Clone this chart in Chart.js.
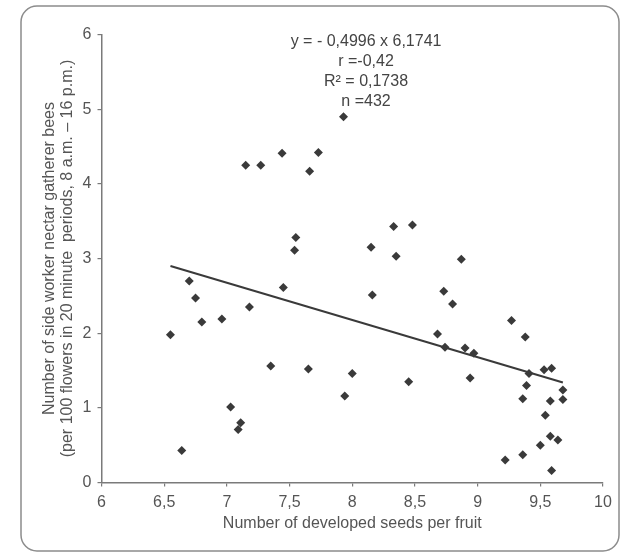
<!DOCTYPE html>
<html><head><meta charset="utf-8">
<script src="https://cdn.jsdelivr.net/npm/chart.js@4.4.1/dist/chart.umd.min.js"></script>
<style>html,body{margin:0;padding:0;background:#fff}canvas{display:block}</style>
</head><body>
<canvas id="c" width="621" height="554"></canvas>
<script>
// Observed points: number of developed seeds per fruit (x) vs bees (y)
const seedsX = [7.93,7.15,7.27,7.44,7.66,7.73,7.55,7.54,6.70,6.75,7.45,7.18,6.80,6.96,6.55,7.35,7.65,8.00,7.94,
  8.33,8.48,8.15,8.35,8.87,8.16,8.73,8.80,9.27,9.38,8.68,8.74,8.90,8.97,9.41,9.53,9.59,8.45,8.94,9.39,9.68,
  9.36,9.58,9.68,9.54,9.58,9.64,9.50,9.36,9.22,9.59,7.03,7.11,7.09,6.64];
const beesY = [4.90,4.25,4.25,4.41,4.17,4.42,3.28,3.11,2.70,2.47,2.61,2.35,2.15,2.19,1.98,1.56,1.52,1.46,1.16,
  3.43,3.45,3.15,3.03,2.99,2.51,2.56,2.39,2.17,1.95,1.99,1.81,1.80,1.73,1.46,1.51,1.53,1.35,1.40,1.30,1.24,
  1.12,1.09,1.11,0.90,0.62,0.57,0.50,0.37,0.30,0.16,1.01,0.80,0.71,0.43];
// Regression line end points
const trendX = [6.55, 9.68];
const trendY = [2.90, 1.34];
const xTicks = [6, 6.5, 7, 7.5, 8, 8.5, 9, 9.5, 10];
const yTicks = [0, 1, 2, 3, 4, 5, 6];
const statsLines = ['y = - 0,4996 x 6,1741', 'r =-0,42', 'R\u00B2 = 0,1738', 'n =432'];
const xTitle = 'Number of developed seeds per fruit';
const yTitle = ['Number of side worker nectar gatherer bees', '(per 100 flowers in 20 minute  periods, 8 a.m. \u2013 16 p.m.)'];

const FONT = "'Liberation Sans', Arial, Helvetica, sans-serif";
const TXT = '#555';
const AX = '#7a7a7a';

const framePlugin = {
  id: 'frame',
  beforeDraw(chart) {
    const ctx = chart.ctx;
    ctx.save();
    ctx.fillStyle = '#fff';
    ctx.fillRect(0, 0, chart.width, chart.height);
    ctx.strokeStyle = '#8c8c8c';
    ctx.lineWidth = 1.5;
    ctx.beginPath();
    ctx.roundRect(21, 6, 598, 545, 16);
    ctx.stroke();
    ctx.restore();
  }
};

const statsPlugin = {
  id: 'stats',
  afterDraw(chart) {
    const ctx = chart.ctx;
    const xs = chart.scales.x;
    const cx = xs.getPixelForValue(8.11);
    const top = chart.chartArea.top;
    ctx.save();
    ctx.fillStyle = '#444';
    ctx.font = '16px ' + FONT;
    ctx.textAlign = 'center';
    ctx.textBaseline = 'middle';
    statsLines.forEach((t, i) => ctx.fillText(t, cx, top + 7 + i * 20));
    ctx.restore();
  }
};

const fmt = v => String(v).replace('.', ',');

new Chart(document.getElementById('c'), {
  type: 'scatter',
  data: {
    datasets: [
      {
        data: seedsX.map((x, i) => ({x, y: beesY[i]})),
        pointStyle: 'rectRot',
        pointRadius: 4.5,
        pointHoverRadius: 4.5,
        backgroundColor: '#3a3a3a',
        borderWidth: 0,
        order: 1
      },
      {
        type: 'line',
        data: trendX.map((x, i) => ({x, y: trendY[i]})),
        borderColor: '#3a3a3a',
        borderWidth: 2,
        pointRadius: 0,
        fill: false,
        order: 2
      }
    ]
  },
  options: {
    responsive: false,
    animation: false,
    events: [],
    layout: { padding: { top: 34.5, right: 18, left: 0, bottom: 0 } },
    plugins: { legend: { display: false }, tooltip: { enabled: false } },
    scales: {
      x: {
        type: 'linear', min: 6, max: 10,
        afterFit(s) { s.height = 71.5; },
        afterBuildTicks(s) { s.ticks = xTicks.map(v => ({value: v})); },
        border: { display: true, color: AX, width: 1.5 },
        grid: { drawOnChartArea: false, drawTicks: true, tickLength: 4, color: AX, lineWidth: 1.2 },
        ticks: { callback: fmt, color: TXT, font: { family: FONT, size: 16 }, padding: 6, maxRotation: 0, autoSkip: false },
        title: { display: true, text: xTitle, color: TXT, font: { family: FONT, size: 16 }, padding: { top: 0, bottom: 21 } }
      },
      y: {
        type: 'linear', min: 0, max: 6,
        afterFit(s) { s.width = 101.5; },
        afterBuildTicks(s) { s.ticks = yTicks.map(v => ({value: v})); },
        border: { display: true, color: AX, width: 1.5 },
        grid: { drawOnChartArea: false, drawTicks: true, tickLength: 4, color: AX, lineWidth: 1.2 },
        ticks: { callback: fmt, color: TXT, font: { family: FONT, size: 16 }, padding: 6, autoSkip: false },
        title: { display: true, text: yTitle, color: TXT, font: { family: FONT, size: 16, lineHeight: 1.1 }, padding: { top: 41.2, bottom: 0 } }
      }
    }
  },
  plugins: [framePlugin, statsPlugin]
});
</script>
</body></html>
